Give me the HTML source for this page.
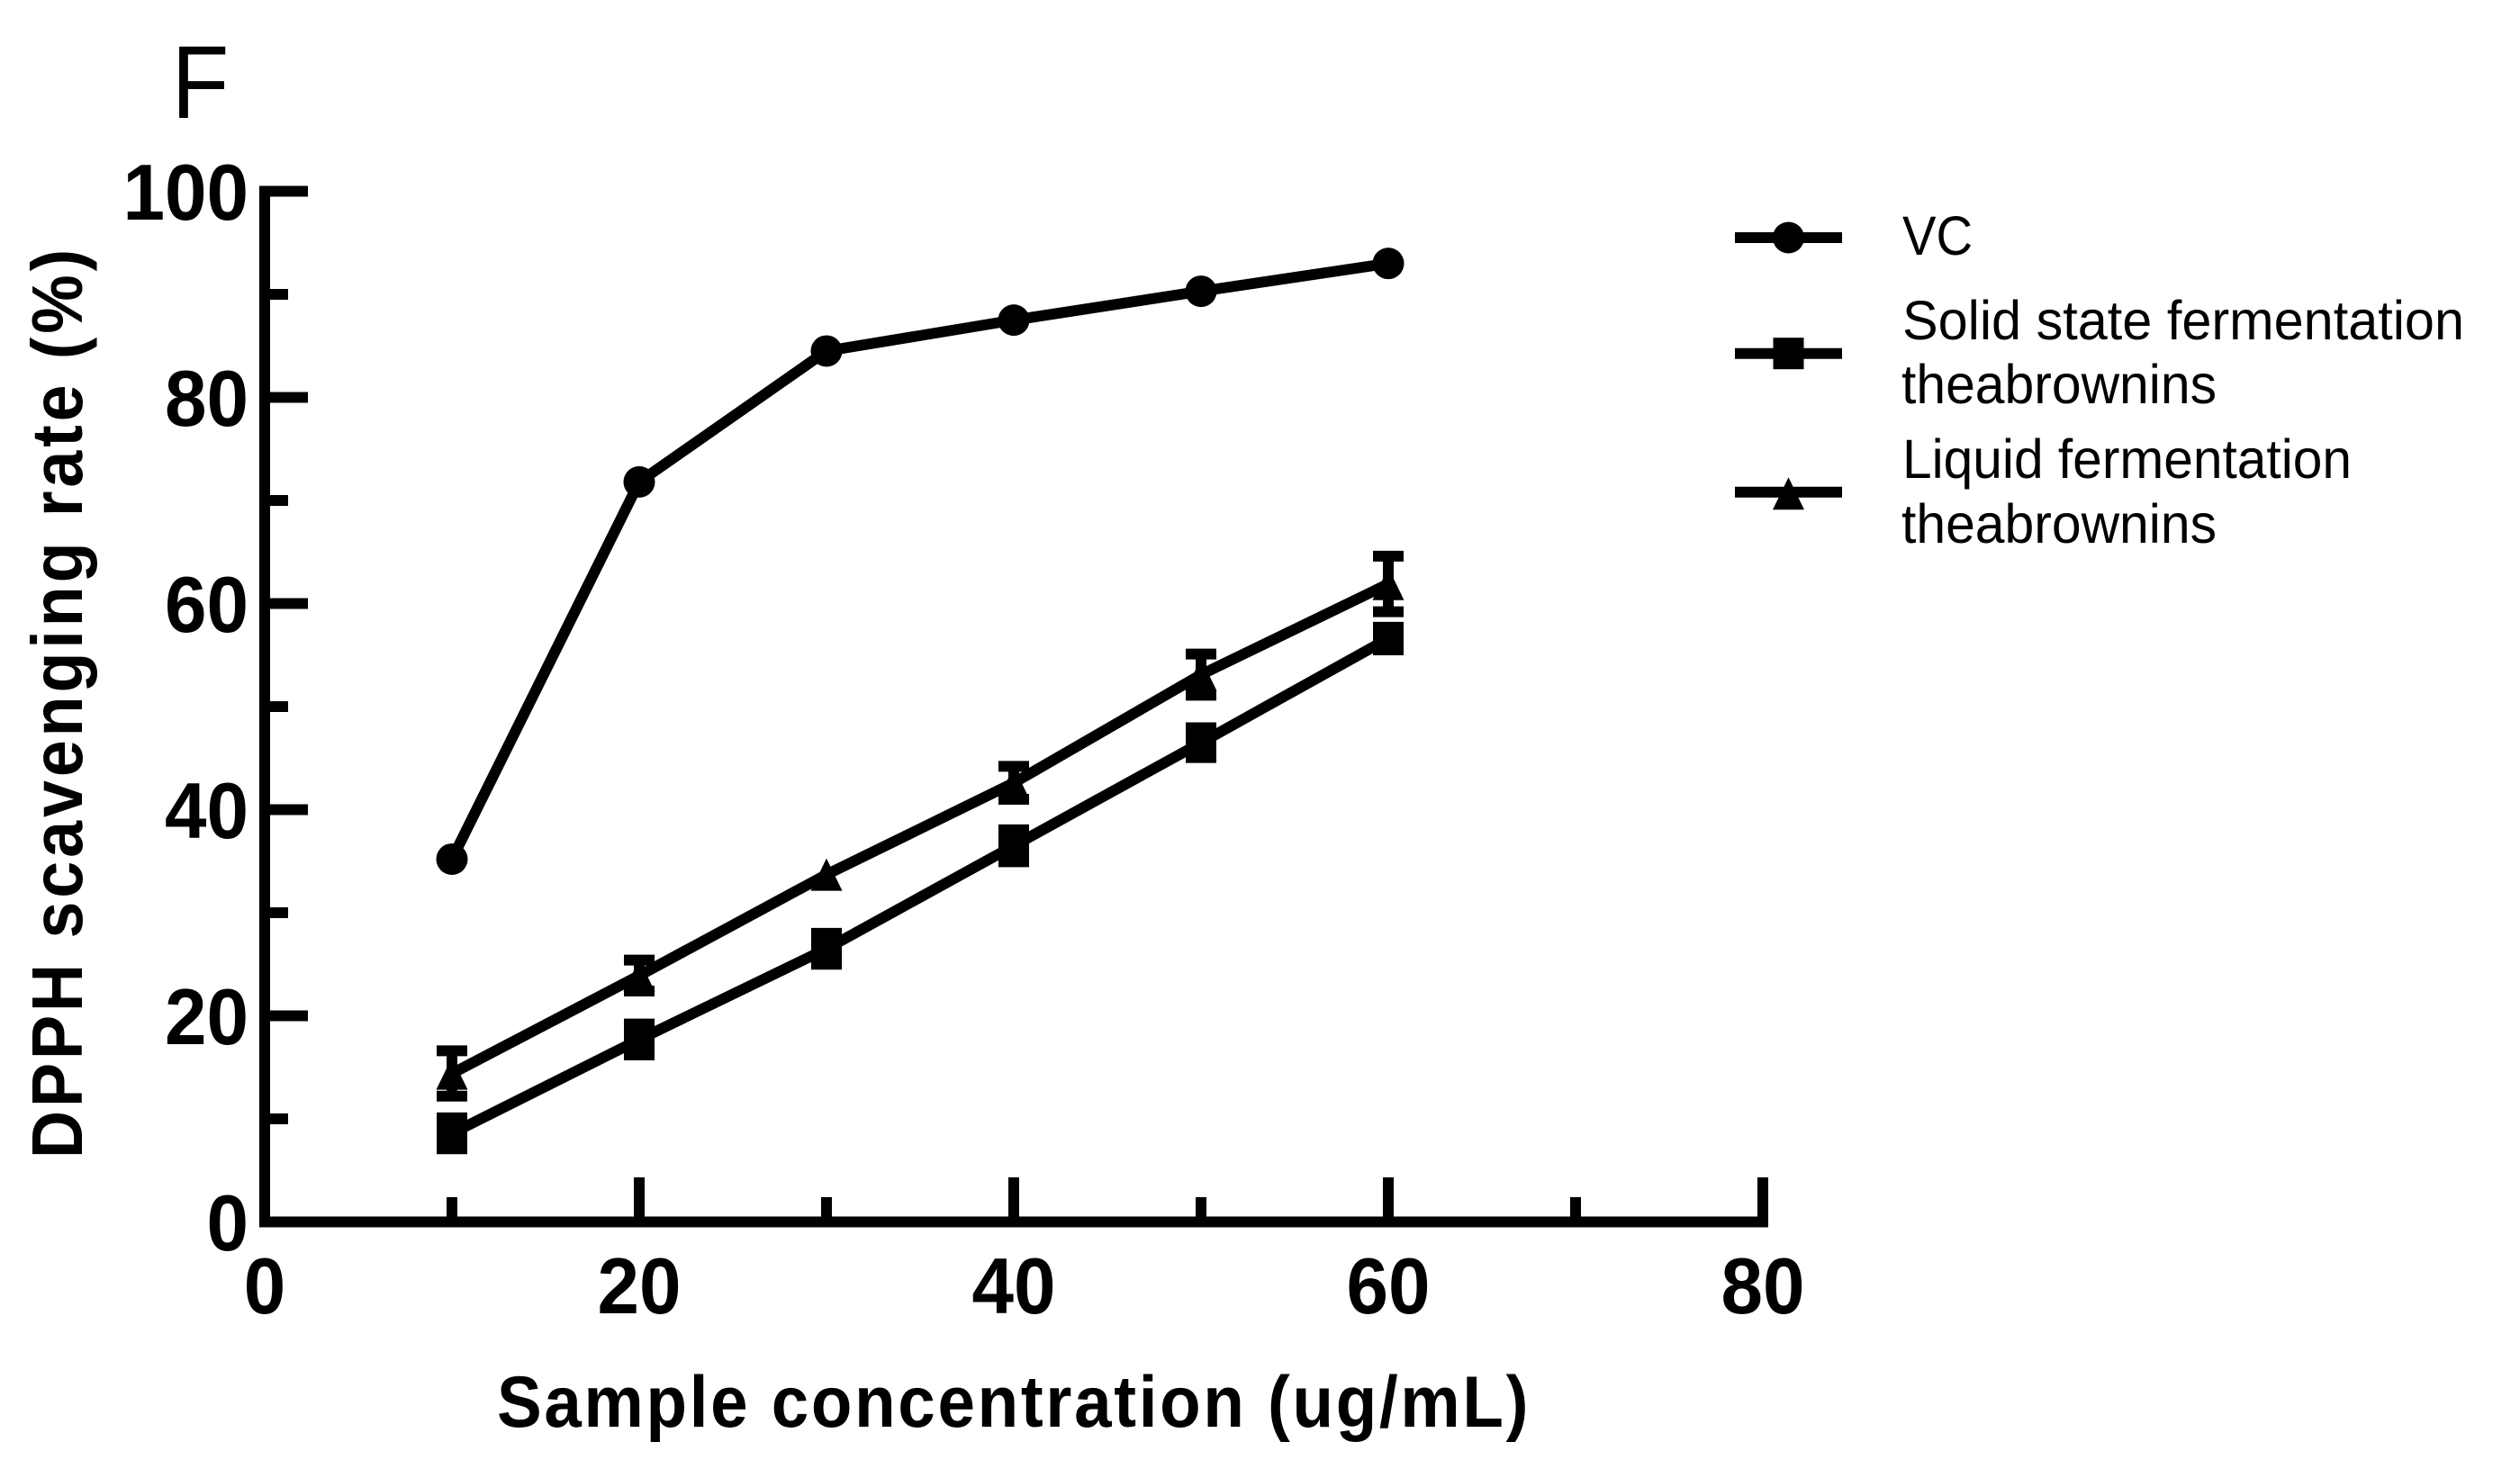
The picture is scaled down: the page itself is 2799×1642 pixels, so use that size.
<!DOCTYPE html>
<html lang="en">
<head>
<meta charset="utf-8">
<title>DPPH scavenging rate</title>
<style>
html,body{margin:0;padding:0;background:#fff;width:2799px;height:1642px;overflow:hidden}
svg{display:block}
text{font-family:"Liberation Sans",Arial,sans-serif;fill:#000}
</style>
</head>
<body>
<svg id="chart" xmlns="http://www.w3.org/2000/svg" width="2799" height="1642" viewBox="0 0 2799 1642">
  <rect x="0" y="0" width="2799" height="1642" fill="#fff"/>
  <text transform="translate(190.5,131) scale(.91,1)" font-size="115">F</text>
  <text transform="translate(91,1287) rotate(-90) scale(.92,1)" font-size="80" font-weight="700" textLength="1098" lengthAdjust="spacing">DPPH scavenging rate (%)</text>
  <text transform="translate(552,1585) scale(.92,1)" font-size="81" font-weight="700" textLength="1245" lengthAdjust="spacing">Sample concentration (ug/mL)</text>
  <g id="axes"></g>
  <g id="series"></g>
  <g id="legend">
    <text x="2113" y="283" font-size="61" textLength="78" lengthAdjust="spacingAndGlyphs">VC</text>
    <text x="2113" y="377" font-size="61" textLength="624" lengthAdjust="spacingAndGlyphs">Solid state fermentation</text>
    <text x="2112" y="448" font-size="61" textLength="350" lengthAdjust="spacingAndGlyphs">theabrownins</text>
    <text x="2113" y="531" font-size="61" textLength="499" lengthAdjust="spacingAndGlyphs">Liquid fermentation</text>
    <text x="2112" y="603" font-size="61" textLength="350" lengthAdjust="spacingAndGlyphs">theabrownins</text>
  </g>
</svg>
<script>
// Data
const concentrations = [10, 20, 30, 40, 50, 60];
const vcValues = [35.2, 71.8, 84.5, 87.5, 90.3, 93.0];
const solidValues = [8.6, 17.7, 26.5, 36.5, 46.5, 56.6];
const solidErrors = [1.5, 1.5, 1.5, 1.55, 1.45, 1.1];
const liquidValues = [14.4, 23.9, 33.7, 42.6, 53.1, 61.9];
const liquidErrors = [2.2, 1.5, 0, 1.6, 2.0, 2.7];
const xMajorTicks = [0, 20, 40, 60, 80];
const xMinorTicks = [10, 30, 50, 70];
const yMajorTicks = [0, 20, 40, 60, 80, 100];
const yMinorTicks = [10, 30, 50, 70, 90];

const NS = 'http://www.w3.org/2000/svg';
const xScale = v => 294 + 20.8 * v;
const yScale = v => 1357.5 - 11.45 * v;

function make(tag, parent, props) {
  const el = document.createElementNS(NS, tag);
  for (const k in props) el.setAttribute(k, props[k]);
  parent.appendChild(el);
  return el;
}

const axes = document.getElementById('axes');
const seriesRoot = document.getElementById('series');
const legend = document.getElementById('legend');

// Axis spines
const ySpine = make('line', axes, {x1: xScale(0), x2: xScale(0), y1: yScale(100) - 6, y2: yScale(0) + 6, stroke: '#000', 'stroke-width': 12});


const xSpine = make('line', axes, {x1: xScale(0) - 6, x2: xScale(80) + 6, y1: yScale(0), y2: yScale(0), stroke: '#000', 'stroke-width': 12});



// Y ticks
yMajorTicks.forEach(v => {
  const t = make('line', axes, {x1: xScale(0), x2: 342, y1: yScale(v), y2: yScale(v), stroke: '#000', 'stroke-width': 12});
  
  
  const s = String(v);
  const l = make('text', axes, {x: 276 - s.length * 46.5, y: yScale(v) + 31.5, 'font-size': 88, 'font-weight': 700, textLength: s.length * 46.5, lengthAdjust: 'spacingAndGlyphs'});
  l.textContent = s;
  
  
});
yMinorTicks.forEach(v => {
  const t = make('line', axes, {x1: xScale(0), x2: 320, y1: yScale(v), y2: yScale(v), stroke: '#000', 'stroke-width': 12});
  
  
});

// X ticks
xMajorTicks.forEach(v => {
  if (v !== 0) {
    const t = make('line', axes, {x1: xScale(v), x2: xScale(v), y1: yScale(0), y2: 1308, stroke: '#000', 'stroke-width': 12});
    
    
  }
  const s = String(v);
  const w = s.length * 46.5;
  const l = make('text', axes, {x: xScale(v) - w / 2, y: 1459, 'font-size': 88, 'font-weight': 700, textLength: w, lengthAdjust: 'spacingAndGlyphs'});
  l.textContent = s;
  
  
});
xMinorTicks.forEach(v => {
  const t = make('line', axes, {x1: xScale(v), x2: xScale(v), y1: yScale(0), y2: 1330, stroke: '#000', 'stroke-width': 12});
  
  
});

function drawMarker(kind, parent, cx, cy) {
  if (kind === 'circle') return make('circle', parent, {cx: cx, cy: cy, r: 17.5, fill: '#000'});
  if (kind === 'square') return make('rect', parent, {x: cx - 17, y: cy - 17.5, width: 34, height: 35, fill: '#000'});
  return make('polygon', parent, {points: (cx) + ',' + (cy - 18) + ' ' + (cx + 17.5) + ',' + (cy + 18) + ' ' + (cx - 17.5) + ',' + (cy + 18), fill: '#000'});
}

function drawSeries(name, kind, values, errors) {
  const g = make('g', seriesRoot, {});
  
  
  const pts = values.map((v, i) => xScale(concentrations[i]) + ',' + yScale(v)).join(' ');
  const line = make('polyline', g, {points: pts, fill: 'none', stroke: '#000', 'stroke-width': 12, 'stroke-linejoin': 'miter'});
  
  
  values.forEach((v, i) => {
    const cx = xScale(concentrations[i]);
    const cy = yScale(v);
    if (errors && errors[i] > 0) {
      const hi = yScale(v + errors[i]);
      const lo = yScale(v - errors[i]);
      const eb = make('path', g, {d: 'M' + cx + ' ' + hi + 'V' + lo + 'M' + (cx - 17) + ' ' + hi + 'H' + (cx + 17) + 'M' + (cx - 17) + ' ' + lo + 'H' + (cx + 17), fill: 'none', stroke: '#000', 'stroke-width': 12});
      
      
    }
    const m = drawMarker(kind, g, cx, cy);
    
    
  });
}

drawSeries('vc', 'circle', vcValues, null);
drawSeries('solid-state', 'square', solidValues, solidErrors);
drawSeries('liquid', 'triangle', liquidValues, liquidErrors);

// Legend swatches
function drawSwatch(name, kind, y) {
  const line = make('line', legend, {x1: 1927, x2: 2046, y1: y, y2: y, stroke: '#000', 'stroke-width': 12});
  
  
  const m = drawMarker(kind, legend, 1986.5, kind === 'triangle' ? y + 1.5 : y);
  
  
}
drawSwatch('vc', 'circle', 264);
drawSwatch('solid-state', 'square', 392.7);
drawSwatch('liquid', 'triangle', 546.7);
</script>
</body>
</html>
